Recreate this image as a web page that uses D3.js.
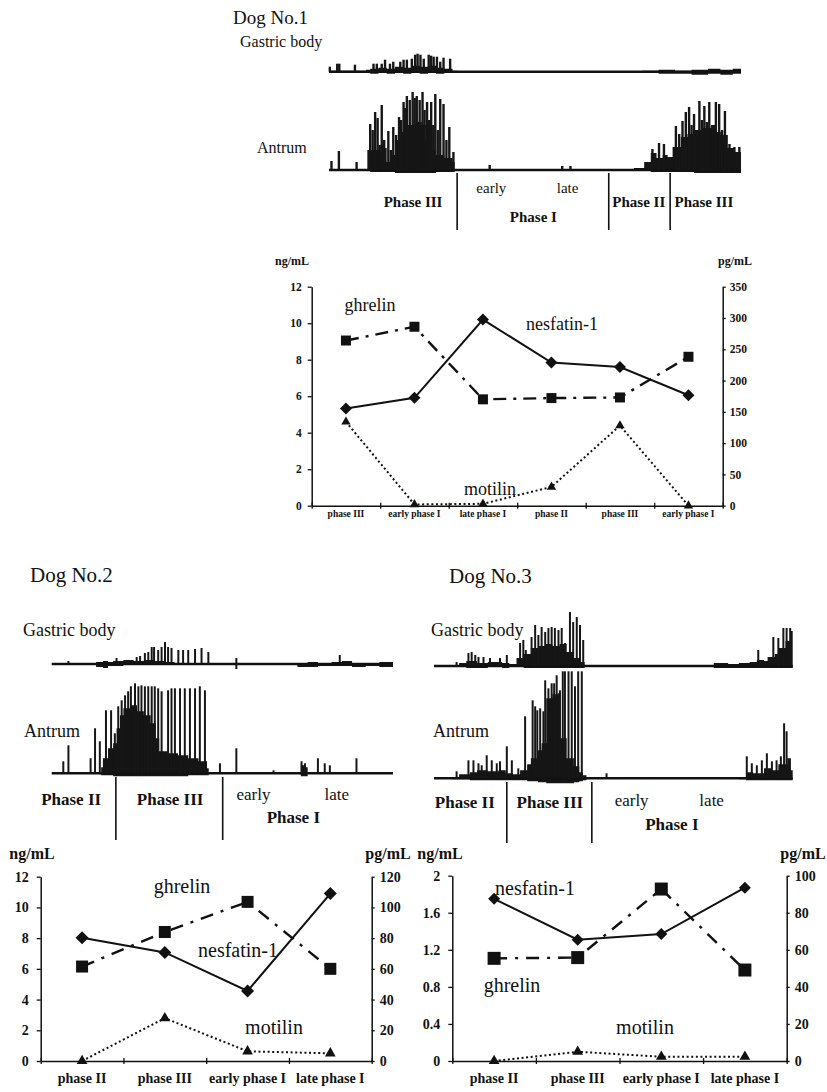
<!DOCTYPE html>
<html>
<head>
<meta charset="utf-8">
<script src="https://cdn.jsdelivr.net/npm/d3@7"></script>
<style>
  body { margin: 0; background: #fff; }
  svg text { font-family: "Liberation Serif", "DejaVu Serif", serif; fill: #111; }
</style>
</head>
<body>
<svg id="fig" width="827" height="1092"></svg>
<script>
// ---------- hormone values ----------
var dog1Phases = ["phase III", "early phase I", "late phase I", "phase II", "phase III", "early phase I"];
var dog1Nesfatin = [5.32, 5.91, 10.2, 7.84, 7.6, 6.05];      // ng/mL, left axis
var dog1Ghrelin = [264, 286, 170, 172, 173, 238];             // pg/mL, right axis
var dog1Motilin = [134, 2, 3, 30, 128, 0];                    // pg/mL, right axis
var dog1LeftTicks = [0, 2, 4, 6, 8, 10, 12];
var dog1RightTicks = [0, 50, 100, 150, 200, 250, 300, 350];

var dog2Phases = ["phase II", "phase III", "early phase I", "late phase I"];
var dog2Nesfatin = [8.03, 7.07, 4.56, 10.9];
var dog2Ghrelin = [61.5, 84, 103.6, 60];
var dog2Motilin = [0, 27.9, 6.3, 5];
var dog2LeftTicks = [0, 2, 4, 6, 8, 10, 12];
var dog2RightTicks = [0, 20, 40, 60, 80, 100, 120];

var dog3Phases = ["phase II", "phase III", "early phase I", "late phase I"];
var dog3Nesfatin = [1.75, 1.31, 1.37, 1.87];
var dog3Ghrelin = [55.4, 55.8, 92.8, 49.1];
var dog3Motilin = [0, 5, 2.3, 2.3];
var dog3LeftTicks = [0, 0.4, 0.8, 1.2, 1.6, 2];
var dog3RightTicks = [0, 20, 40, 60, 80, 100];

// ---------- motility traces: spikes [time %, amplitude], envelopes [time %, up, down] ----------
var dog1BodySpikes = [[0.2,5],[2,8],[2.5,8],[6.3,7],[10.8,8],[11.6,8],[12.8,8],[13.6,12],[14.8,8],[15.6,10],[17.3,10],[18.1,12],
  [18.9,12],[20.1,13],[20.9,17],[21.5,18],[22.2,17],[23,13],[24.2,17],[24.8,16],[25.4,15],[26.2,15],[27,10],[27.8,14],[29.4,13]];
var dog1BodyFill = [[[0,1,1],[9,2,1],[10,3,2],[12,4,1],[14,3,2],[16,5,1],[18,4,2],[20,6,1],[22,5,2],[24,6,1],[26,4,2],[28,3,1],[30,1,1],[31,1,1]],
  [[76,1,1],[80,2,2],[84,1,2],[88,2,3],[92,3,2],[95,2,3],[98,3,2],[100,2,2]]];
var dog1AntrumSpikes = [[0.6,9],[2.4,19],[6.7,8],[9.6,20],[10,46],[10.6,40],[11.2,58],[11.8,52],[12.8,65],[13.4,30],[14.4,39],
  [15,20],[15.6,43],[16.3,35],[17,53],[17.5,50],[18.1,68],[18.5,62],[18.9,74],[19.6,70],[20.3,78],[20.8,72],[21.3,74],[22,70],
  [22.7,78],[23.2,60],[23.8,68],[24.3,50],[24.8,68],[25.3,45],[25.8,76],[26.4,40],[27,71],[27.8,66],[28.5,30],[29.2,43],[30.2,18],
  [39,5],[56.6,4],[58.6,4],
  [78.5,21],[80.1,27],[81.3,26],[84.2,44],[85,36],[85.8,49],[86.6,58],[87.4,63],[88,45],[88.6,56],[89.9,69],[90.5,50],[91.1,64],
  [91.7,48],[92.3,68],[93.1,45],[93.9,68],[94.7,66],[95.4,40],[96.1,59],[97.2,26],[98.4,23],[99.6,23]];
var dog1AntrumFill = [[[9.4,0,1],[10,20,2],[12,25,2],[13.5,22,2],[14,8,2],[15,15,2],[16,30,3],[17.5,38,3],[19,45,3],[21,48,3],
   [22.5,45,3],[23.5,30,3],[24.5,20,3],[26,15,2],[28,12,2],[30,8,2],[30.5,0,1]],
  [[70,0,1],[74,2,1],[76.5,8,1],[78.1,17,2],[79.5,12,2],[81,15,2],[82.2,13,2],[83.4,23,2],[85.4,33,2],[87,36,2],[88.6,40,3],
   [90.5,42,3],[92.7,45,3],[94,38,3],[95.1,35,3],[96.8,22,3],[98.5,18,3],[100,14,2]]];
var dog1Dividers = [31.1, 67.9, 82.8];
var dog1PhaseText = ["Phase III", "early", "late", "Phase I", "Phase II", "Phase III"];
var dog1PhaseAt = [20.4, 39.4, 57.9, 49.6, 75.2, 91];

var dog2BodySpikes = [[4.9,3],[19,6],[24.9,7],[25.9,8],[27.3,11],[28.3,12],[29.3,17],[30,17],[31.2,14],[32.2,17],[33.2,22],
  [34.1,17],[35.1,16],[37.1,14],[38.5,14],[40,14],[42,15],[43.9,16],[45.9,12],[54.1,6],[54.1,-5],[84.4,9]];
var dog2BodyFill = [[[12,1,1],[13,2,3],[15,3,4],[16.5,2,2],[18,3,2],[21,4,1],[24,3,1],[27,4,1],[30,3,1],[33,2,1],[36,1,1],[38,1,1]],
  [[70,1,1],[72,1,3],[75,2,3],[78,1,2],[82,2,2],[85,3,2],[88,1,3],[92,1,2],[96,2,3],[100,1,2]]];
var dog2AntrumSpikes = [[3.4,12],[4.9,28],[11.4,15],[12.7,45],[14.1,32],[15.9,63],[17.4,63],[18.5,40],[19.5,67],[20.5,73],
  [21.5,78],[22.4,82],[23.2,87],[24.4,90],[25.4,87],[26.3,88],[27.3,87],[28.3,87],[29.3,87],[30.2,87],[31.2,85],[32.2,82],
  [34.1,83],[35.1,85],[36.1,85],[37.6,85],[39,85],[40.5,85],[42,85],[43.4,87],[44.9,83],[49.3,10],[54.1,25],[65,3],
  [73.2,12],[74.2,10],[78,15],[80,10],[81.5,8],[89.3,15]];
var dog2AntrumFill = [[[14,0,1],[14.5,6,2],[15,15,2],[16.5,25,2],[18,30,3],[19,45,3],[20,58,3],[21,65,3],[23,68,3],[25,62,3],
   [27,58,3],[29,50,3],[30.5,35,3],[31.5,22,3],[34,20,3],[37,18,3],[40,15,2],[43,12,2],[45.5,5,2],[46,0,1]],
  [[72.5,0,1],[73,8,3],[74.5,6,3],[75,0,1]]];
var dog2Dividers = [18.8, 50.1];
var dog2PhaseText = ["Phase II", "Phase III", "early", "late", "Phase I"];
var dog2PhaseAt = [5.7, 34.7, 59.1, 83.5, 70.8];

var dog3BodySpikes = [[6.3,4],[9.6,13],[10.5,14],[11.5,11],[12.4,9],[13.8,9],[15.6,8],[18.4,8],[20.3,11],[24,23],[24.9,26],
  [25.6,16],[27.2,29],[28.2,41],[29.1,31],[30,39],[31,34],[31.9,38],[32.8,39],[33.7,38],[34.7,36],[35.6,38],[36.5,23],
  [37.9,54],[38.8,44],[39.8,49],[40.7,41],[41.6,26],[90.4,16],[94.6,29],[96,28],[97.4,38],[98.3,38],[99.3,38]];
var dog3BodyFill = [[[5,1,1],[7,3,1],[9,5,2],[12,3,2],[15,4,1],[19,3,2],[21,2,1],[23,8,1],[25,12,2],[27,18,2],[29,20,2],
   [31,22,2],[33,20,2],[35,22,2],[37,14,2],[39,8,2],[41,4,2],[42,1,1]],
  [[75,1,1],[78,3,2],[82,2,2],[85,3,2],[88,4,2],[90,6,2],[92,5,2],[93,9,2],[95,12,2],[96,18,2],[98,25,2],[99.5,35,2],[100,0,1]]];
var dog3AntrumSpikes = [[6.3,7],[9.6,18],[11,18],[12.4,15],[13.3,13],[14.7,23],[16.1,18],[17.5,15],[18.4,17],[20.3,32],
  [21.7,18],[23.5,10],[25.4,62],[26.3,13],[27.5,78],[28.2,72],[28.8,68],[29.6,70],[30.5,67],[31,98],[31.9,90],[32.8,95],
  [33.5,95],[34.2,103],[35.1,88],[35.9,107],[36.5,107],[37.5,107],[38.4,107],[39.3,92],[40.2,107],[41.2,107],[48.1,5],
  [87.2,22],[88.6,15],[90,13],[91.4,18],[92.8,25],[94.2,17],[95.5,18],[96.7,22],[97.6,55],[98.3,47],[99.2,8]];
var dog3AntrumFill = [[[5,1,1],[7,4,1],[10,6,2],[12,8,2],[15,7,2],[18,8,2],[20,5,2],[22,4,2],[24,8,2],[26,14,3],[27,20,3],
   [29,28,4],[30,35,4],[31.3,80,5],[33,84,5],[34.5,85,5],[35.3,40,5],[37,20,5],[39,12,4],[40.5,6,3],[41.5,3,2],[42.5,1,1]],
  [[85,1,1],[87,6,2],[89,5,2],[92,10,2],[94,8,2],[96,14,2],[98.5,20,2],[99.5,8,2],[100,1,1]]];
var dog3Dividers = [20.3, 44];
var dog3PhaseText = ["Phase II", "Phase III", "early", "late", "Phase I"];
var dog3PhaseAt = [8.6, 32.3, 55.1, 77.4, 66.3];

var svg = d3.select("#fig");
var SERIF = "Liberation Serif, DejaVu Serif, serif";

function txt(g, s, x, y, size, opt) {
  opt = opt || {};
  return g.append("text").attr("x", x).attr("y", y).attr("font-size", size)
    .attr("font-family", SERIF)
    .attr("font-weight", opt.bold ? "bold" : "normal")
    .attr("text-anchor", opt.anchor || "start").text(s);
}

// one recording strip (gastric body or antrum)
function drawTrace(g, x0, x1, base, spikes, fills, sw) {
  var t = d3.scaleLinear().domain([0, 100]).range([x0, x1]);
  var a = d3.scaleLinear().domain([0, 100]).range([base, base - 100]);
  var area = d3.area().curve(d3.curveStepAfter)
    .x(function(d) { return t(d[0]); })
    .y0(function(d) { return a(-d[2]); })
    .y1(function(d) { return a(d[1]); });
  fills.forEach(function(f) {
    g.append("path").datum(f).attr("d", area).attr("fill", "#151515");
  });
  g.append("line").attr("x1", t(0)).attr("x2", t(100)).attr("y1", a(0)).attr("y2", a(0))
    .attr("stroke", "#111").attr("stroke-width", 2.6);
  g.selectAll(null).data(spikes).join("line")
    .attr("x1", function(d) { return t(d[0]); }).attr("x2", function(d) { return t(d[0]); })
    .attr("y1", a(0)).attr("y2", function(d) { return a(d[1]); })
    .attr("stroke", "#161616").attr("stroke-width", sw);
}

function drawRecording(p) {
  var g = svg.append("g");
  txt(g, p.title, p.titleX, p.titleY, p.titleSize);
  txt(g, "Gastric body", p.bodyLabelX, p.bodyLabelY, p.labelSize);
  txt(g, "Antrum", p.antrumLabelX, p.antrumLabelY, p.labelSize);
  drawTrace(g, p.x0, p.x1, p.bodyBase, p.bodySpikes, p.bodyFill, p.spikeW);
  drawTrace(g, p.x0, p.x1, p.antrumBase, p.antrumSpikes, p.antrumFill, p.spikeW);
  var t = d3.scaleLinear().domain([0, 100]).range([p.x0, p.x1]);
  g.selectAll(null).data(p.dividers).join("line")
    .attr("x1", t).attr("x2", t).attr("y1", p.divTop).attr("y2", p.divBottom)
    .attr("stroke", "#111").attr("stroke-width", 1.6);
  p.phaseText.forEach(function(s, i) {
    var row = s === "Phase I" ? 2 : (s === "early" || s === "late") ? 1 : 0;
    txt(g, s, t(p.phaseAt[i]), p.rowY[row], p.phaseSize, { anchor: "middle", bold: row !== 1 });
  });
}

function drawChart(c) {
  var g = svg.append("g");
  var n = c.phases.length;
  var xb = d3.scaleLinear().domain([0, n]).range([c.left, c.right]);
  var x = function(i) { return xb(i + 0.5); };
  var yL = d3.scaleLinear().domain([0, d3.max(c.leftTicks)]).range([c.bottom, c.top]);
  var yR = d3.scaleLinear().domain([0, d3.max(c.rightTicks)]).range([c.bottom, c.top]);

  var gl = g.append("g").attr("transform", "translate(" + c.left + ",0)")
    .call(d3.axisLeft(yL).tickValues(c.leftTicks).tickFormat(String).tickSize(4).tickSizeOuter(0).tickPadding(c.padL));
  var gr = g.append("g").attr("transform", "translate(" + c.right + ",0)")
    .call(d3.axisRight(yR).tickValues(c.rightTicks).tickFormat(String).tickSize(3).tickSizeOuter(0).tickPadding(c.padR));
  var gx = g.append("g").attr("transform", "translate(0," + c.bottom + ")")
    .call(d3.axisBottom(xb).tickValues(d3.range(n + 1)).tickFormat("").tickSize(3).tickSizeOuter(0));
  gx.selectAll(".tick line").attr("y1", -3);
  [gl, gr, gx].forEach(function(ax) {
    ax.attr("font-family", SERIF);
    ax.select(".domain").attr("stroke", "#111").attr("stroke-width", 1.5);
    ax.selectAll(".tick line").attr("stroke", "#111").attr("stroke-width", 1.3);
    ax.selectAll("text").attr("font-family", SERIF).attr("font-size", c.tickSize)
      .attr("font-weight", "bold").attr("fill", "#111");
  });

  c.phases.forEach(function(s, i) {
    txt(g, s, x(i), c.xLabelY, c.xLabelSize, { anchor: "middle", bold: true });
  });
  txt(g, "ng/mL", c.unitLX, c.unitY, c.unitSize, { anchor: "middle", bold: true });
  txt(g, "pg/mL", c.unitRX, c.unitY, c.unitSize, { anchor: "middle", bold: true });

  var series = [
    { v: c.ghrelin, y: yR, dash: c.dashDot, w: 2.4, sym: d3.symbolSquare, size: c.sq * c.sq, rot: 0 },
    { v: c.nesfatin, y: yL, dash: null, w: 2, sym: d3.symbolSquare, size: c.dm * c.dm / 2, rot: 45 },
    { v: c.motilin, y: yR, dash: "2,2.6", w: 2, sym: d3.symbolTriangle, size: c.tri, rot: 0 }
  ];
  series.forEach(function(s) {
    var line = d3.line().x(function(d, i) { return x(i); }).y(function(d) { return s.y(d); });
    g.append("path").datum(s.v).attr("d", line).attr("fill", "none").attr("stroke", "#111")
      .attr("stroke-width", s.w).attr("stroke-dasharray", s.dash);
  });
  series.forEach(function(s) {
    g.selectAll(null).data(s.v).join("path")
      .attr("d", d3.symbol().type(s.sym).size(s.size))
      .attr("transform", function(d, i) { return "translate(" + x(i) + "," + s.y(d) + ") rotate(" + s.rot + ")"; })
      .attr("fill", "#111");
  });
  c.names.forEach(function(nm) {
    txt(g, nm[0], nm[1], nm[2], c.nameSize, { anchor: "middle" });
  });
}

// ---------- Dog No.1 ----------
drawRecording({
  title: "Dog No.1", titleX: 233, titleY: 24, titleSize: 19,
  bodyLabelX: 240, bodyLabelY: 47, antrumLabelX: 257, antrumLabelY: 153, labelSize: 16,
  x0: 329, x1: 741, bodyBase: 71.7, antrumBase: 170, spikeW: 2.4,
  bodySpikes: dog1BodySpikes, bodyFill: dog1BodyFill, antrumSpikes: dog1AntrumSpikes, antrumFill: dog1AntrumFill,
  dividers: dog1Dividers, divTop: 173, divBottom: 230,
  phaseText: dog1PhaseText, phaseAt: dog1PhaseAt, rowY: [207, 193, 222], phaseSize: 15
});
drawChart({
  phases: dog1Phases, nesfatin: dog1Nesfatin, ghrelin: dog1Ghrelin, motilin: dog1Motilin,
  leftTicks: dog1LeftTicks, rightTicks: dog1RightTicks,
  left: 311.7, right: 722.7, top: 286.7, bottom: 505.7,
  tickSize: 11.5, padL: 6, padR: 4, xLabelY: 517, xLabelSize: 9.5,
  unitY: 265, unitLX: 292, unitRX: 735, unitSize: 12,
  dashDot: "13,7,3,7", sq: 10, dm: 12, tri: 38, nameSize: 18,
  names: [["ghrelin", 370, 311], ["nesfatin-1", 562, 330], ["motilin", 490, 495]]
});

// ---------- Dog No.2 ----------
drawRecording({
  title: "Dog No.2", titleX: 30, titleY: 582, titleSize: 21,
  bodyLabelX: 23, bodyLabelY: 636, antrumLabelX: 24, antrumLabelY: 737, labelSize: 18,
  x0: 51.7, x1: 393, bodyBase: 664, antrumBase: 773.3, spikeW: 2,
  bodySpikes: dog2BodySpikes, bodyFill: dog2BodyFill, antrumSpikes: dog2AntrumSpikes, antrumFill: dog2AntrumFill,
  dividers: dog2Dividers, divTop: 777, divBottom: 840,
  phaseText: dog2PhaseText, phaseAt: dog2PhaseAt, rowY: [805, 800, 823], phaseSize: 17
});
drawChart({
  phases: dog2Phases, nesfatin: dog2Nesfatin, ghrelin: dog2Ghrelin, motilin: dog2Motilin,
  leftTicks: dog2LeftTicks, rightTicks: dog2RightTicks,
  left: 40.7, right: 371.7, top: 876.7, bottom: 1061,
  tickSize: 14, padL: 8, padR: 5, xLabelY: 1083, xLabelSize: 14,
  unitY: 859, unitLX: 32, unitRX: 388, unitSize: 16,
  dashDot: "13,8,3,8", sq: 12, dm: 13, tri: 50, nameSize: 20,
  names: [["ghrelin", 182, 893], ["nesfatin-1", 238, 957], ["motilin", 274, 1034]]
});

// ---------- Dog No.3 ----------
drawRecording({
  title: "Dog No.3", titleX: 449, titleY: 583, titleSize: 21,
  bodyLabelX: 431, bodyLabelY: 636, antrumLabelX: 433, antrumLabelY: 737, labelSize: 18,
  x0: 434, x1: 792.7, bodyBase: 666, antrumBase: 778.3, spikeW: 2,
  bodySpikes: dog3BodySpikes, bodyFill: dog3BodyFill, antrumSpikes: dog3AntrumSpikes, antrumFill: dog3AntrumFill,
  dividers: dog3Dividers, divTop: 782, divBottom: 843,
  phaseText: dog3PhaseText, phaseAt: dog3PhaseAt, rowY: [808, 806, 830], phaseSize: 17
});
drawChart({
  phases: dog3Phases, nesfatin: dog3Nesfatin, ghrelin: dog3Ghrelin, motilin: dog3Motilin,
  leftTicks: dog3LeftTicks, rightTicks: dog3RightTicks,
  left: 452.3, right: 786.7, top: 875.7, bottom: 1061,
  tickSize: 14, padL: 8, padR: 5, xLabelY: 1083, xLabelSize: 14,
  unitY: 859, unitLX: 440, unitRX: 803, unitSize: 16,
  dashDot: "13,8,3,8", sq: 13, dm: 12, tri: 50, nameSize: 20,
  names: [["nesfatin-1", 535, 895], ["ghrelin", 512, 992], ["motilin", 645, 1034]]
});
</script>
</body>
</html>
